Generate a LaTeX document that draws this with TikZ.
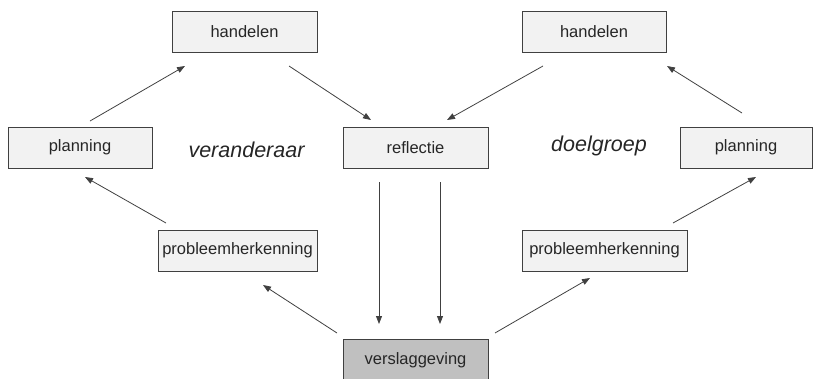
\documentclass[tikz,border=0pt]{standalone}
\usepackage{fontspec}
\setmainfont{Liberation Sans}
\usetikzlibrary{arrows.meta}
\definecolor{boxfill}{HTML}{F2F2F2}
\definecolor{boxline}{HTML}{404040}
\definecolor{darkfill}{HTML}{C0C0C0}
\definecolor{txt}{HTML}{262626}
\begin{document}
\begin{tikzpicture}[x=1pt,y=-1pt,
  box/.style={draw=boxline,fill=boxfill,line width=0.9pt,minimum height=41pt,inner sep=0pt,
    font=\fontsize{16.5}{18}\selectfont,text=txt},
  lbl/.style={font=\itshape\fontsize{21.5}{24}\selectfont,text=txt},
  arr/.style={draw=boxline,line width=0.8pt,-{Triangle[length=8pt,width=6pt]}}]
\useasboundingbox (0,0) rectangle (814,378);
\node[box,minimum width=145pt] (hL) at (244.5,31.5) {handelen};
\node[box,minimum width=144pt] (pL) at (80,147.5) {planning};
\node[box,minimum width=145pt] (re) at (415.5,147.5) {reflectie};
\node[box,minimum width=144pt] (hR) at (594,31.5) {handelen};
\node[box,minimum width=132pt] (pR) at (746,147.5) {planning};
\node[box,minimum width=159pt] (kL) at (237.5,250.5) {probleemherkenning};
\node[box,minimum width=165pt] (kR) at (604.5,250.5) {probleemherkenning};
\node[box,fill=darkfill,minimum width=145pt,minimum height=43pt] (vs) at (415.5,360.5) {verslaggeving};
\node[lbl] (tv) at (246.5,150) {veranderaar};
\node[lbl] (td) at (599,146) {doelgroep};
% connector end points
\coordinate (a1) at (90,121); \coordinate (a2) at (185,66);
\coordinate (b1) at (289,66); \coordinate (b2) at (371,120);
\coordinate (c1) at (543,66); \coordinate (c2) at (447,120);
\coordinate (d1) at (742,113); \coordinate (d2) at (667,66);
\coordinate (e1) at (166,223); \coordinate (e2) at (85,177);
\coordinate (f1) at (337,333); \coordinate (f2) at (263,285);
\coordinate (g1) at (379,182); \coordinate (g2) at (379,324);
\coordinate (h1) at (440,182); \coordinate (h2) at (440,324);
\coordinate (i1) at (495,333); \coordinate (i2) at (590,278);
\coordinate (j1) at (673,223); \coordinate (j2) at (756,177);
\draw[arr] (a1) -- (a2);
\draw[arr] (b1) -- (b2);
\draw[arr] (c1) -- (c2);
\draw[arr] (d1) -- (d2);
\draw[arr] (e1) -- (e2);
\draw[arr] (f1) -- (f2);
\draw[arr] (g1) -- (g2);
\draw[arr] (h1) -- (h2);
\draw[arr] (i1) -- (i2);
\draw[arr] (j1) -- (j2);
\end{tikzpicture}
\end{document}
